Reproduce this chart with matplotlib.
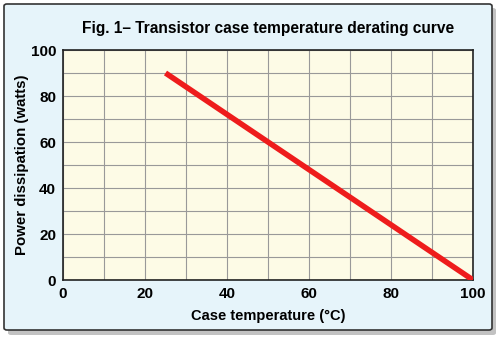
import numpy as np
import matplotlib
matplotlib.use('Agg')
import matplotlib.pyplot as plt
from matplotlib.patches import FancyBboxPatch

# derating curve: full power up to 25 C, falls to zero at 100 C
case_temp = [25, 100]
power_w = [90, 0]
x_ticks = [0, 20, 40, 60, 80, 100]
y_ticks = [0, 20, 40, 60, 80, 100]

plt.rcParams['font.family'] = ['Liberation Sans Narrow', 'Liberation Sans', 'DejaVu Sans']

fig = plt.figure(figsize=(5.0, 3.37), dpi=100)
fig.patch.set_facecolor('white')

# panel frame with a soft drop shadow
W, H = 500, 337
def fx(p): return p / W
def fy(p): return 1 - p / H
shadow = FancyBboxPatch((fx(8), fy(335)), fx(488), 327 / H,
                        boxstyle='round,pad=0,rounding_size=0.006',
                        transform=fig.transFigure, facecolor='#9a9a9a',
                        edgecolor='none', alpha=0.6, zorder=-2)
frame = FancyBboxPatch((fx(4), fy(330)), fx(488), 326 / H,
                       boxstyle='round,pad=0,rounding_size=0.006',
                       transform=fig.transFigure, facecolor='#e6f4fa',
                       edgecolor='#333333', lw=1.2, zorder=-1)
fig.patches.extend([shadow, frame])

ax = fig.add_axes([63 / W, 1 - 280 / H, 410 / W, 230 / H])
ax.set_zorder(2)
ax.set_facecolor('#fdfbe6')
ax.set_xlim(0, 100)
ax.set_ylim(0, 100)
ax.set_xticks(np.arange(0, 101, 10))
ax.set_yticks(np.arange(0, 101, 10))
ax.grid(True, color='#999999', lw=0.8)
ax.set_axisbelow(True)
ax.set_xticklabels([str(v) if v in x_ticks else '' for v in range(0, 101, 10)])
ax.set_yticklabels([str(v) if v in y_ticks else '' for v in range(0, 101, 10)])
ax.tick_params(length=0, labelsize=11, pad=5)
for lab in ax.get_xticklabels() + ax.get_yticklabels():
    lab.set_fontweight('bold')
for side in ['left', 'bottom', 'top', 'right']:
    ax.spines[side].set_color('#222222')
    ax.spines[side].set_linewidth(1.2)

ax.plot(case_temp, power_w, color='#ee1c1c', lw=4.0, solid_capstyle='butt',
        zorder=3)

ax.set_xlabel('Case temperature (°C)', fontsize=10.5, fontweight='bold',
              labelpad=6)
ax.set_ylabel('Power dissipation (watts)', fontsize=10.8, fontweight='bold')
ax.yaxis.set_label_coords(-(63 - 29) / 410, 0.5)
fig.text(268 / W, 1 - 28 / H, 'Fig. 1– Transistor case temperature derating curve',
         ha='center', va='center', fontsize=11.2, fontweight='bold')

fig.savefig('out.png', dpi=100)
